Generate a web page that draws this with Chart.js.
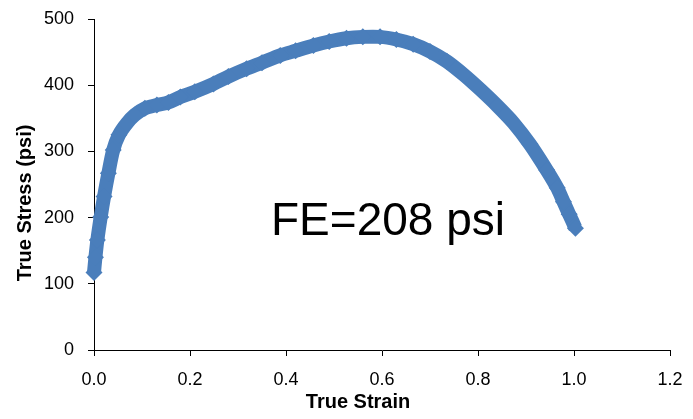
<!DOCTYPE html>
<html>
<head>
<meta charset="utf-8">
<script src="https://cdn.jsdelivr.net/npm/chart.js@4"></script>
<style>
  body { margin: 0; background: #fff; }
  #wrap { width: 693px; height: 419px; }
</style>
</head>
<body>
<div id="wrap"><canvas id="stressChart" width="693" height="419"></canvas></div>
<script>
// True strain / true stress readings
const trueStrain = [0.000, 0.003, 0.007, 0.014, 0.021, 0.030, 0.040, 0.052, 0.068, 0.085,
                    0.106, 0.131, 0.155, 0.180, 0.210, 0.249, 0.280, 0.318, 0.350, 0.388,
                    0.420, 0.457, 0.490, 0.526, 0.560, 0.596, 0.630, 0.665, 0.700, 0.735,
                    0.770, 0.804, 0.840, 0.874, 0.908, 0.943, 0.965, 0.978, 0.990, 1.003];
const trueStress = [117, 140, 166, 201, 232, 267, 302, 325, 342, 355,
                    365, 370, 374, 382, 390, 402, 413, 425, 434, 445,
                    452, 460, 466, 471, 473, 473, 469, 462, 451, 436,
                    416, 394, 369, 343, 311, 272, 245, 224, 205, 184];

const xTicks = [0, 0.2, 0.4, 0.6, 0.8, 1.0, 1.2];
const yTicks = [0, 100, 200, 300, 400, 500];

const feLabel = 'FE=208 psi';
const feAnchor = { x: 0.6125, y: 174 };

const blue = '#4A7EBB';
const font = '"Liberation Sans", Arial, sans-serif';

const points = trueStrain.map((x, i) => ({ x: x, y: trueStress[i] }));

// annotation text plus both axis titles
const textPlugin = {
  id: 'texts',
  afterDatasetsDraw(chart) {
    const { ctx, scales } = chart;
    ctx.save();
    ctx.fillStyle = '#000';
    ctx.textAlign = 'center';
    ctx.textBaseline = 'alphabetic';
    ctx.font = '46px ' + font;
    ctx.fillText(feLabel, scales.x.getPixelForValue(feAnchor.x), scales.y.getPixelForValue(feAnchor.y));

    ctx.font = 'bold 20px ' + font;
    ctx.textBaseline = 'middle';
    ctx.fillText('True Strain', 358, 402);

    ctx.translate(25, 203);
    ctx.rotate(-Math.PI / 2);
    ctx.fillText('True Stress (psi)', 0, 0);
    ctx.restore();
  }
};

new Chart(document.getElementById('stressChart'), {
  type: 'scatter',
  data: {
    datasets: [{
      data: points,
      showLine: true,
      tension: 0.3,
      borderColor: blue,
      borderWidth: 14,
      pointStyle: 'rectRot',
      pointRadius: 8.5,
      pointBackgroundColor: blue,
      pointBorderColor: blue,
      pointBorderWidth: 0,
      clip: false
    }]
  },
  options: {
    responsive: false,
    animation: false,
    events: [],
    layout: { padding: { top: 19, right: 23, left: 0, bottom: 0 } },
    plugins: {
      legend: { display: false },
      tooltip: { enabled: false }
    },
    scales: {
      x: {
        type: 'linear',
        min: 0,
        max: 1.2,
        afterBuildTicks: (axis) => { axis.ticks = xTicks.map(v => ({ value: v })); },
        afterFit: (axis) => {
          axis.height = 69;
          axis.paddingLeft = 0;
          axis.paddingRight = 0;
        },
        ticks: {
          callback: (v) => v.toFixed(1),
          color: '#000',
          font: { family: font, size: 18 },
          padding: 13,
          maxRotation: 0
        },
        grid: { drawOnChartArea: false, tickLength: 6, color: '#000' },
        border: { color: '#000', width: 1 }
      },
      y: {
        min: 0,
        max: 500,
        afterBuildTicks: (axis) => { axis.ticks = yTicks.map(v => ({ value: v })); },
        afterFit: (axis) => {
          axis.width = 94;
          axis.paddingTop = 0;
          axis.paddingBottom = 0;
        },
        ticks: {
          color: '#000',
          font: { family: font, size: 18 },
          padding: 14
        },
        grid: { drawOnChartArea: false, tickLength: 6, color: '#000' },
        border: { color: '#000', width: 1 }
      }
    }
  },
  plugins: [textPlugin]
});
</script>
</body>
</html>
